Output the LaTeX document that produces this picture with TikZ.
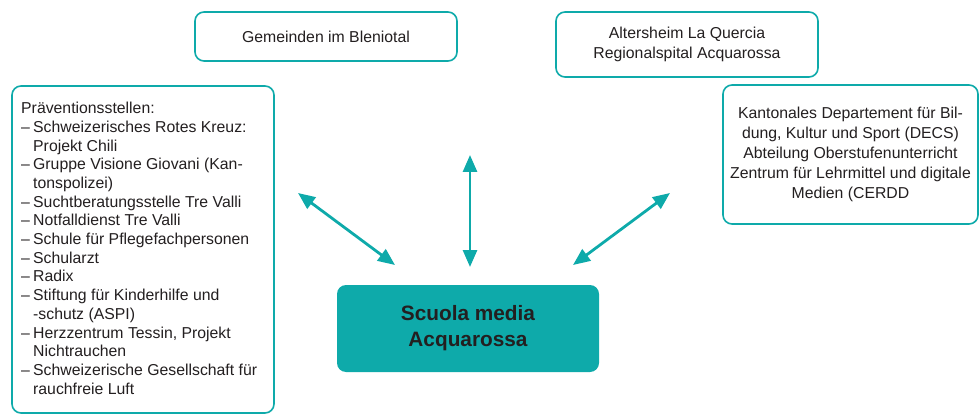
\documentclass[tikz,border=0pt]{standalone}
\usepackage{fontspec}
\setmainfont{Liberation Sans}
\usetikzlibrary{arrows.meta}
\definecolor{teal1}{HTML}{0EAAAA}
\definecolor{txt}{HTML}{231F20}
\newcommand\dd{\makebox[12pt][l]{\raisebox{0pt}{–}}}
\newcommand\ii{\makebox[12pt]{}}
\begin{document}
\begin{tikzpicture}[x=1pt,y=-1pt,
  box/.style={draw=teal1, line width=1.6pt, rounded corners=9pt, fill=white, text=txt,
    font=\fontsize{15.8}{19.8}\selectfont, align=center, inner sep=0pt},
  link/.style={teal1, line width=2.8pt,
    {Triangle[length=17pt,width=14pt]}-{Triangle[length=17pt,width=14pt]}}]
\useasboundingbox (0,0) rectangle (979,414);
% boxes
\node[box, minimum width=262pt, minimum height=49pt] (gem) at (326,36.5) {Gemeinden im Bleniotal};
\node[box, minimum width=262pt, minimum height=65pt] (alt) at (687,44.5) {Altersheim La Quercia\\Regionalspital Acquarossa};
\node[box, minimum width=255pt, minimum height=139pt] (kant) at (850.5,154.5)
  {Kantonales Departement für Bil-\\dung, Kultur und Sport (DECS)\\Abteilung Oberstufenunterricht\\Zentrum für Lehrmittel und digitale\\Medien (CERDD};
\node[box, minimum width=262pt, minimum height=327pt] (prev) at (143,249.5) {};
\node[text=txt, font=\fontsize{15.8}{18.7}\selectfont, align=left, inner sep=0pt, anchor=north west] (prevtxt) at (21,102)
  {Präventionsstellen:\\
   \dd Schweizerisches Rotes Kreuz:\\
   \ii Projekt Chili\\
   \dd Gruppe Visione Giovani (Kan-\\
   \ii tonspolizei)\\
   \dd Suchtberatungsstelle Tre Valli\\
   \dd Notfalldienst Tre Valli\\
   \dd Schule für Pflegefachpersonen\\
   \dd Schularzt\\
   \dd Radix\\
   \dd Stiftung für Kinderhilfe und\\
   \ii -schutz (ASPI)\\
   \dd Herzzentrum Tessin, Projekt\\
   \ii Nichtrauchen\\
   \dd Schweizerische Gesellschaft für\\
   \ii rauchfreie Luft};
% centre
\node[fill=teal1, rounded corners=9pt, minimum width=262pt, minimum height=87pt, inner sep=0pt,
  text=txt, font=\bfseries\fontsize{20.8}{26}\selectfont, align=center] (sm) at (468,328.5) {Scuola media\\Acquarossa};
% arrows
\coordinate (l1) at (298,193); \coordinate (l2) at (395,265);
\coordinate (m1) at (470,155); \coordinate (m2) at (470,267);
\coordinate (r1) at (670,193); \coordinate (r2) at (573,265);
\draw[link] (l1) -- (l2);
\draw[link] (m1) -- (m2);
\draw[link] (r1) -- (r2);
\end{tikzpicture}
\end{document}
